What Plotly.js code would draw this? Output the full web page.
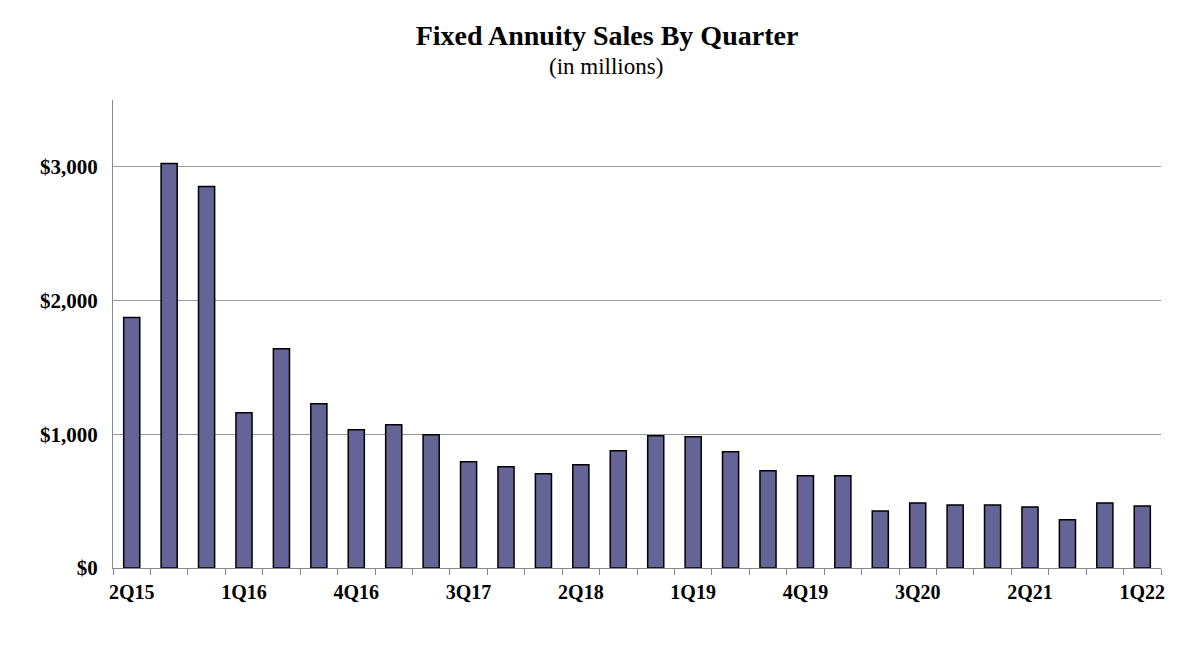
<!DOCTYPE html>
<html>
<head>
<meta charset="utf-8">
<script src="https://cdn.plot.ly/plotly-3.0.1.min.js"></script>
<style>html,body{margin:0;padding:0;background:#fff;}#chart{width:1200px;height:645px;}</style>
</head>
<body>
<div id="chart"></div>
<script>
const quarters = ["2Q15","3Q15","4Q15","1Q16","2Q16","3Q16","4Q16","1Q17","2Q17","3Q17","4Q17","1Q18","2Q18","3Q18","4Q18","1Q19","2Q19","3Q19","4Q19","1Q20","2Q20","3Q20","4Q20","1Q21","2Q21","3Q21","4Q21","1Q22"];
const sales = [1873,3026,2854,1161,1640,1228,1034,1071,996,794,757,704,772,876,989,981,869,727,689,689,427,487,472,472,457,360,487,464];
const shownLabels = ["2Q15","1Q16","4Q16","3Q17","2Q18","1Q19","4Q19","3Q20","2Q21","1Q22"];
const yTicks = [0,1000,2000,3000];
const yTickText = ["$0","$1,000","$2,000","$3,000"];

const tickText = quarters.map(q => shownLabels.includes(q) ? q : "");
const serif = "Liberation Serif, Times New Roman, serif";

Plotly.newPlot("chart", [{
  type: "bar",
  x: quarters,
  y: sales,
  marker: {color: "#646496", line: {color: "#000000", width: 1.5}},
  hoverinfo: "x+y"
}], {
  width: 1200, height: 645,
  margin: {l: 113, r: 39, t: 100, b: 77},
  paper_bgcolor: "#ffffff", plot_bgcolor: "#ffffff",
  bargap: 0.57,
  showlegend: false,
  title: {
    text: "<b>Fixed Annuity Sales By Quarter</b>",
    font: {family: serif, size: 28, color: "#000"},
    x: 607/1200, xanchor: "center", xref: "container",
    y: 1 - 35/645, yanchor: "middle", yref: "container"
  },
  annotations: [{
    text: "(in millions)", showarrow: false,
    xref: "paper", x: (606 - 113)/1048, xanchor: "center",
    yref: "paper", y: 1 + 34/468, yanchor: "middle",
    font: {family: serif, size: 23, color: "#000"}
  }],
  xaxis: {
    type: "category",
    tickmode: "array", tickvals: quarters, ticktext: tickText,
    tickson: "boundaries",
    ticks: "outside", ticklen: 6, tickcolor: "#888", tickwidth: 1,
    showline: true, linecolor: "#888", linewidth: 1,
    showgrid: false,
    ticklabelstandoff: 6,
    tickfont: {family: serif, size: 20, color: "#000", weight: "bold"},
    tickangle: 0
  },
  yaxis: {
    range: [0, 3500],
    tickmode: "array", tickvals: yTicks, ticktext: yTickText,
    ticks: "",
    showline: true, linecolor: "#888", linewidth: 1,
    showgrid: true, gridcolor: "#9a9a9a", gridwidth: 1,
    zeroline: false,
    ticklabelstandoff: 10,
    tickfont: {family: serif, size: 21, color: "#000", weight: "bold"}
  }
}, {displayModeBar: false, staticPlot: true});
</script>
</body>
</html>
